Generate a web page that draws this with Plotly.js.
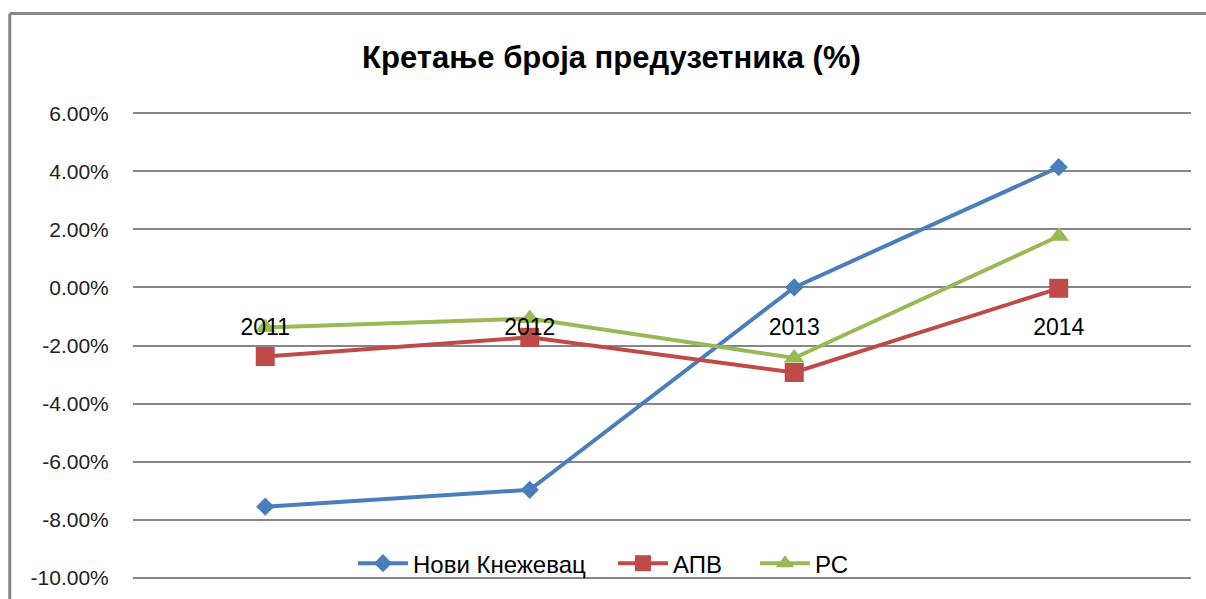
<!DOCTYPE html>
<html>
<head>
<meta charset="utf-8">
<script src="https://cdn.plot.ly/plotly-3.0.1.min.js"></script>
<style>html,body{margin:0;padding:0;background:#fff;}#chart{width:1206px;height:599px;}</style>
</head>
<body>
<div id="chart"></div>
<script>
const categories = ["2011", "2012", "2013", "2014"];
const noviKnezevac = [-0.0755, -0.0697, 0.0000, 0.0414];
const apv = [-0.0238, -0.0172, -0.0293, -0.0003];
const rs = [-0.0138, -0.0107, -0.0243, 0.0176];
const yTickVals = [-0.10, -0.08, -0.06, -0.04, -0.02, 0.00, 0.02, 0.04, 0.06];
const yTickText = ["-10.00%", "-8.00%", "-6.00%", "-4.00%", "-2.00%", "0.00%", "2.00%", "4.00%", "6.00%"];
const seriesNames = ["Нови Кнежевац", "АПВ", "РС"];
const titleText = "Кретање броја предузетника (%)";

const FONT = "Liberation Sans, Arial, sans-serif";
const traces = [
  {x: categories, y: noviKnezevac, name: seriesNames[0], type: "scatter", mode: "lines+markers", legend: "legend",
   line: {color: "#4A7EBB", width: 4}, marker: {symbol: "diamond", size: 14, color: "#4A7EBB"}},
  {x: categories, y: apv, name: seriesNames[1], type: "scatter", mode: "lines+markers", legend: "legend2",
   line: {color: "#BE4B48", width: 4}, marker: {symbol: "square", size: 19, color: "#BE4B48"}},
  {x: categories, y: rs, name: seriesNames[2], type: "scatter", mode: "lines+markers", legend: "legend3",
   line: {color: "#98B954", width: 4}, marker: {symbol: "triangle-up", size: 18, color: "#98B954"}}
];

// y range padded slightly so the end gridlines are drawn
const yMin = -0.1004, yMax = 0.0604;
const zeroPos = (0 - yMin) / (yMax - yMin);

function legendAt(x) {
  return {orientation: "h", x: x, xanchor: "left", y: 0.033, yanchor: "middle",
          font: {size: 24, family: FONT, color: "#000"}, bgcolor: "rgba(255,255,255,0)",
          itemwidth: 50, tracegroupgap: 0};
}

const layout = {
  width: 1206, height: 599,
  margin: {l: 133, r: 15, t: 112, b: 20},
  paper_bgcolor: "#fff", plot_bgcolor: "#fff",
  font: {family: FONT, color: "#000"},
  showlegend: true,
  hovermode: false,
  title: {text: "<b>" + titleText + "</b>", x: 0.507, xref: "container", xanchor: "center",
          y: 0.905, yref: "container", yanchor: "middle",
          font: {size: 31, family: FONT, color: "#000"}},
  xaxis: {type: "category", range: [-0.5, 3.5], anchor: "free", position: zeroPos, showgrid: false, showline: false,
          zeroline: false, ticks: "outside", ticklen: 19, tickcolor: "rgba(0,0,0,0)",
          tickfont: {size: 23, family: FONT, color: "#000"}, fixedrange: true},
  yaxis: {range: [yMin, yMax], tickvals: yTickVals, ticktext: yTickText, showgrid: true,
          gridcolor: "#868686", gridwidth: 2, zeroline: false, showline: false,
          ticks: "outside", ticklen: 19, tickcolor: "rgba(0,0,0,0)",
          tickfont: {size: 21, family: FONT, color: "#222"}, fixedrange: true},
  legend: legendAt(0.2079),
  legend2: legendAt(0.4537),
  legend3: legendAt(0.5879),
  shapes: [
    {type: "line", xref: "paper", yref: "paper", x0: -0.1165, x1: 1.05, y0: 1.2108, y1: 1.2108,
     line: {color: "#868686", width: 3}},
    {type: "line", xref: "paper", yref: "paper", x0: -0.1165, x1: -0.1165, y0: 1.2108, y1: -0.1,
     line: {color: "#868686", width: 3}}
  ]
};

Plotly.newPlot("chart", traces, layout, {displayModeBar: false, staticPlot: true});
</script>
</body>
</html>
